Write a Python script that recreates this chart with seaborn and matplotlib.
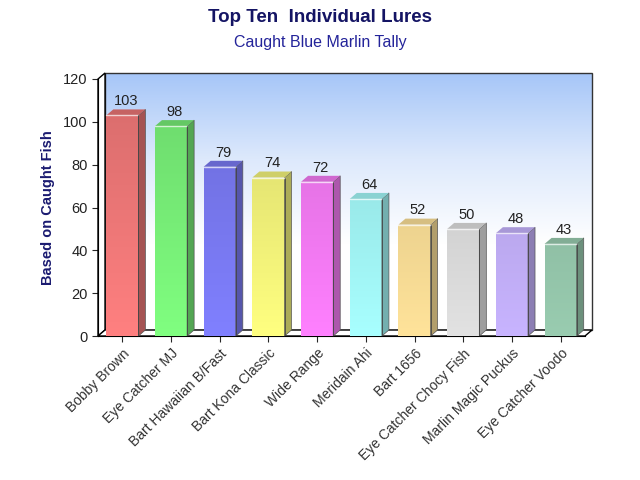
import numpy as np
import pandas as pd
import seaborn as sns
import matplotlib.pyplot as plt
from matplotlib.patches import Polygon, Rectangle
from matplotlib.colors import LinearSegmentedColormap, to_rgb

lures = ["Bobby Brown", "Eye Catcher MJ", "Bart Hawaiian B/Fast", "Bart Kona Classic",
         "Wide Range", "Meridain Ahi", "Bart 1656", "Eye Catcher Chocy Fish",
         "Marlin Magic Puckus", "Eye Catcher Voodo"]
counts = [103, 98, 79, 74, 72, 64, 52, 50, 48, 43]
colors = ["#ff8080", "#80ff80", "#8080ff", "#ffff80", "#ff80ff",
          "#a8ffff", "#ffe39a", "#e2e2e2", "#c8b4ff", "#99ccb0"]

df = pd.DataFrame({"lure": lures, "count": counts})

sns.set_style("white")
plt.rcParams['font.family'] = ['Liberation Sans', 'DejaVu Sans']

fig = plt.figure(figsize=(6.4, 4.8), dpi=100)
ax = fig.add_axes([98 / 640, 1 - 336 / 480, 487 / 640, 257 / 480])

sns.barplot(data=df, x="lure", y="count", hue="lure", palette=colors,
            width=0.66, legend=False, ax=ax, zorder=3)

ax.set_xlim(-0.5, 9.5)
ax.set_ylim(0, 120)
dx = 7 / 48.7      # depth offset in data units
dy = 6 / (257 / 120)

# back wall with gradient
wall = np.linspace(0, 1, 256).reshape(-1, 1)
wall_cmap = LinearSegmentedColormap.from_list("wall", ["#ffffff", "#ffffff", "#dde9fc", "#a6c6f8"])
im = ax.imshow(wall, extent=[-0.5 + dx, 9.5 + dx, dy, 120 + dy], origin="lower",
               aspect="auto", cmap=wall_cmap, zorder=0)
im.set_clip_on(False)
ax.add_patch(Rectangle((-0.5 + dx, dy), 10, 120, fill=False, ec="#333333", lw=1,
                       zorder=1, clip_on=False))
# left wall
ax.add_patch(Polygon([(-0.5, 0), (-0.5 + dx, dy), (-0.5 + dx, 120 + dy), (-0.5, 120)],
                     closed=True, fc="white", ec="black", lw=1, zorder=1, clip_on=False))
# floor
ax.add_patch(Polygon([(-0.5, 0), (9.5, 0), (9.5 + dx, dy), (-0.5 + dx, dy)],
                     closed=True, fc="white", ec="black", lw=1, zorder=2, clip_on=False))

for bar, c in zip(ax.patches[:len(counts)], colors):
    x, w, h = bar.get_x(), bar.get_width(), bar.get_height()
    base = np.array(to_rgb(c))
    cmap = LinearSegmentedColormap.from_list("b", [base, base * 0.84])
    # gradient spans the whole value axis, so taller bars get darker tops
    g = ax.imshow(np.linspace(0, 1, 200).reshape(-1, 1), extent=[x, x + w, 0, 120],
                  origin="lower", aspect="auto", cmap=cmap, zorder=3)
    g.set_clip_path(bar)
    bar.set_facecolor("none")
    bar.set_edgecolor("none")
    top = base * (1 - 0.16 * h / 120)
    ax.add_patch(Polygon([(x + w, 0), (x + w + dx, dy), (x + w + dx, h + dy), (x + w, h)],
                         closed=True, fc=top * 0.75, ec="#555555", lw=0.5, zorder=4, clip_on=False))
    ax.add_patch(Polygon([(x, h), (x + dx, h + dy), (x + w + dx, h + dy), (x + w, h)],
                         closed=True, fc=top * 0.9, ec="none", zorder=4, clip_on=False))
    ax.plot([x, x + w], [h, h], color="white", lw=1, alpha=0.7, zorder=5)
    ax.plot([x + w, x + w], [0, h], color="#444444", lw=0.6, zorder=5)
    ax.text(x + w / 2 + dx / 2, h + dy + 0.6, str(int(h)), ha="center", va="bottom",
            fontsize=10.5, color="#222222", zorder=6)

ax.set_xlim(-0.5, 9.5)
ax.set_ylim(0, 120)
ax.set_yticks(range(0, 121, 20))
ax.set_facecolor("none")
for s in ["top", "right"]:
    ax.spines[s].set_visible(False)
ax.spines["left"].set_color("black")
ax.spines["bottom"].set_color("black")
ax.spines["left"].set_zorder(7)
ax.tick_params(axis="y", length=4, labelsize=10.5, labelcolor="#222222", direction="out", left=True)
ax.tick_params(axis="x", length=4, labelsize=10, labelcolor="#333333", direction="out", bottom=True)
plt.setp(ax.get_xticklabels(), rotation=45, ha="right", rotation_mode="anchor")
ax.set_xlabel("")
ax.set_ylabel("Based on Caught Fish", fontsize=10.5, fontweight="bold", color="#1a1a70", labelpad=6)

fig.text(0.5, 1 - 18 / 480, "Top Ten  Individual Lures", ha="center", va="center",
         fontsize=13.5, fontweight="bold", color="#141464")
fig.text(0.5, 1 - 42 / 480, "Caught Blue Marlin Tally", ha="center", va="center",
         fontsize=11.5, color="#24249a")

fig.savefig("out.png", dpi=100)
